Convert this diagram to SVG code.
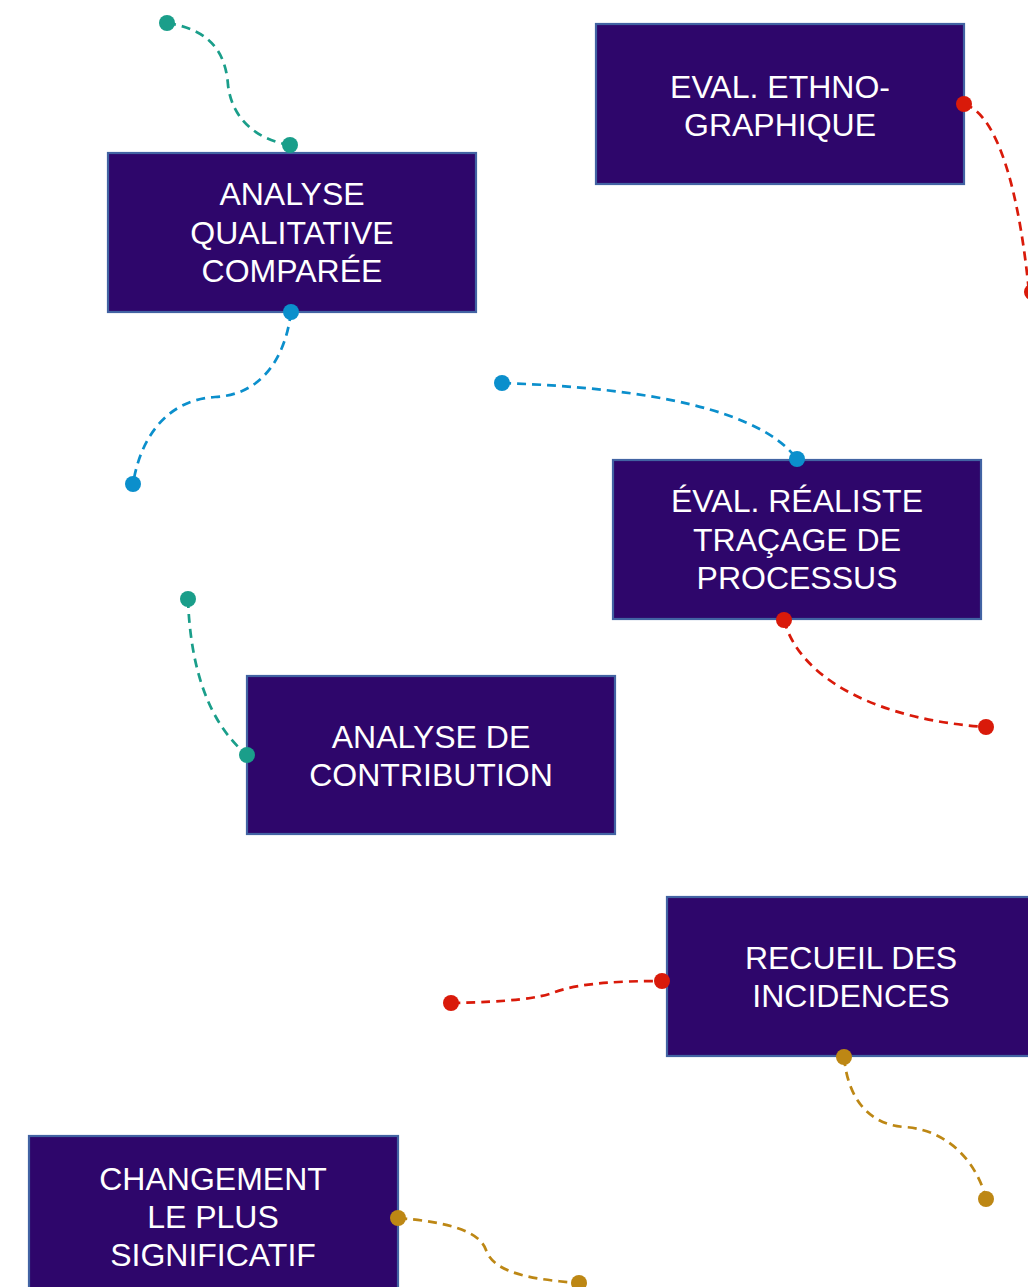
<svg xmlns="http://www.w3.org/2000/svg" width="1028" height="1287" viewBox="0 0 1028 1287">
<style>
.node rect{fill:#2e066b;stroke:#4263a3;stroke-width:2.2}
.node text{fill:#fff;font-family:"Liberation Sans",Arial,sans-serif;font-size:32px;text-anchor:middle}
.c path{fill:none;stroke-width:2.7;stroke-dasharray:9 6}
.teal{stroke:#1a9e8a}.tealf{fill:#1a9e8a}
.red{stroke:#d91a0a}.redf{fill:#d91a0a}
.blue{stroke:#0b8fcc}.bluef{fill:#0b8fcc}
.gold{stroke:#bd8714}.goldf{fill:#bd8714}
</style>
<rect width="1028" height="1287" fill="#fff"/>
<g id="n1" class="node"><rect x="596" y="24" width="368" height="160"/><text x="780" y="98">EVAL. ETHNO-</text><text x="780" y="136">GRAPHIQUE</text></g>
<g id="n2" class="node"><rect x="108" y="153" width="368" height="159"/><text x="292" y="205">ANALYSE</text><text x="292" y="244">QUALITATIVE</text><text x="292" y="282">COMPARÉE</text></g>
<g id="n3" class="node"><rect x="613" y="460" width="368" height="159"/><text x="797" y="512">ÉVAL. RÉALISTE</text><text x="797" y="551">TRAÇAGE DE</text><text x="797" y="589">PROCESSUS</text></g>
<g id="n4" class="node"><rect x="247" y="676" width="368" height="158"/><text x="431" y="748">ANALYSE DE</text><text x="431" y="786">CONTRIBUTION</text></g>
<g id="n5" class="node"><rect x="667" y="897" width="368" height="159"/><text x="851" y="969">RECUEIL DES</text><text x="851" y="1007">INCIDENCES</text></g>
<g id="n6" class="node"><rect x="29" y="1136" width="369" height="159"/><text x="213" y="1190">CHANGEMENT</text><text x="213" y="1228">LE PLUS</text><text x="213" y="1266">SIGNIFICATIF</text></g>
<g id="connectors" class="c">
<path class="teal" d="M167,23 C215,30 226,58 228,85 C232,120 258,140 290,145"/>
<circle class="tealf" cx="167" cy="23" r="8"/><circle class="tealf" cx="290" cy="145" r="8"/>
<path class="red" d="M964,104 C1000,115 1020,200 1029,292"/>
<circle class="redf" cx="964" cy="104" r="8"/><circle class="redf" cx="1032" cy="292" r="8"/>
<path class="blue" d="M291,312 C285,360 260,395 215,397 C165,400 140,440 133,484"/>
<circle class="bluef" cx="291" cy="312" r="8"/><circle class="bluef" cx="133" cy="484" r="8"/>
<path class="blue" d="M502,383 C650,388 760,410 797,459"/>
<circle class="bluef" cx="502" cy="383" r="8"/><circle class="bluef" cx="797" cy="459" r="8"/>
<path class="red" d="M784,620 C800,680 880,720 986,727"/>
<circle class="redf" cx="784" cy="620" r="8"/><circle class="redf" cx="986" cy="727" r="8"/>
<path class="teal" d="M188,599 C190,660 205,720 247,755"/>
<circle class="tealf" cx="188" cy="599" r="8"/><circle class="tealf" cx="247" cy="755" r="8"/>
<path class="red" d="M451,1003 C510,1002 540,998 555,992 C580,983 620,981 662,981"/>
<circle class="redf" cx="451" cy="1003" r="8"/><circle class="redf" cx="662" cy="981" r="8"/>
<path class="gold" d="M844,1057 C848,1100 870,1125 905,1127 C950,1130 978,1165 986,1199"/>
<circle class="goldf" cx="844" cy="1057" r="8"/><circle class="goldf" cx="986" cy="1199" r="8"/>
<path class="gold" d="M398,1218 C450,1222 480,1232 486,1250 C494,1275 540,1280 579,1283"/>
<circle class="goldf" cx="398" cy="1218" r="8"/><circle class="goldf" cx="579" cy="1283" r="8"/>
</g>
</svg>
